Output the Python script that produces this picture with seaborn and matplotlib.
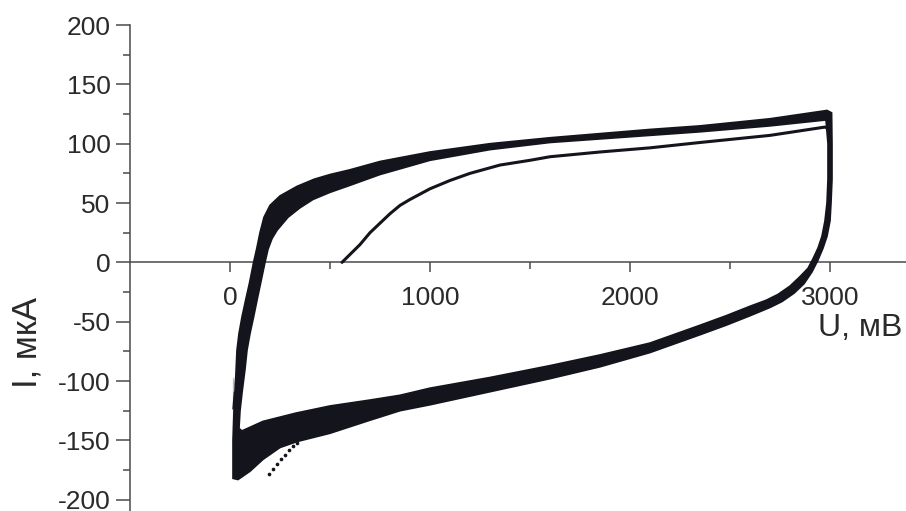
import numpy as np
import pandas as pd
import matplotlib
matplotlib.use("Agg")
import matplotlib.pyplot as plt
import seaborn as sns
from matplotlib.path import Path
from matplotlib.patches import PathPatch

# outer edge of the band of repeated cycles (U, mV / I, uA), going clockwise
band_outer_u = [15, 15, 20, 28, 35, 45, 60, 78, 98, 118, 133, 150, 170, 200, 250, 335, 420,
                500, 600, 750, 1000, 1300, 1600, 2100, 2350, 2700, 2985, 3008, 3010, 3010,
                3005, 3000, 2985, 2965, 2940, 2910, 2870, 2820, 2760, 2700, 2600, 2480, 2350,
                2200, 2100, 1850, 1600, 1300, 1000, 850, 700, 500, 335, 250, 165, 100, 40]
band_outer_i = [-182, -150, -125, -100, -74, -60, -46, -32, -17, 0, 11, 25, 38, 48, 56, 64, 70,
                74, 78, 85, 93, 100, 105, 112, 115, 121, 128, 126, 100, 70,
                50, 35, 22, 12, 2, -8, -18, -26, -33, -38, -45, -53, -61,
                -70, -76, -88, -98, -109, -120, -125, -133, -144, -151, -156, -166, -176, -183]
# inner edge of the same band, same direction
band_inner_u = [45, 50, 60, 75, 85, 100, 118, 135, 155, 175, 190, 210, 235, 290, 350, 415, 500,
                585, 750, 1000, 1300, 1600, 2100, 2350, 2700, 2980, 2990, 2990, 2985, 2975,
                2960, 2940, 2915, 2890, 2850, 2800, 2740, 2680, 2600, 2480, 2350, 2200, 2100,
                1850, 1600, 1300, 1000, 850, 700, 500, 330, 165, 60]
band_inner_i = [-140, -125, -110, -90, -74, -60, -46, -32, -16, 0, 11, 20, 27, 38, 46, 53, 59,
                64, 74, 86, 95, 101, 107, 110, 115, 120, 100, 70, 50, 35,
                22, 12, 3, -5, -12, -20, -27, -32, -37, -45, -53, -62, -68,
                -78, -87, -97, -106, -112, -116, -121, -127, -134, -142]

# first cycle, forward scan (thin line)
first_u = [560, 590, 620, 650, 700, 750, 800, 850, 900, 1000, 1100, 1200, 1350, 1500,
           1600, 1850, 2100, 2350, 2700, 2975, 3000]
first_i = [0, 5, 10, 15, 25, 33, 41, 48, 53, 62, 69, 75, 82, 86,
           89, 93, 96.5, 101, 107, 114, 112]

# sparse points under the lower branch
tail_u = [195, 215, 235, 255, 275, 295, 315, 335]
tail_i = [-178, -174, -170, -166, -162, -158, -155, -152]

# thin start segment and small rectangle at the left
start_u = [15, 15, 22, 22, 35, 35, 22]
start_i = [-150, -97, -103, -122, -122, -103, -103]

x_major = [0, 1000, 2000, 3000]
x_minor = [500, 1500, 2500]
y_major = [-200, -150, -100, -50, 0, 50, 100, 150, 200]
y_minor = [-175, -125, -75, -25, 25, 75, 125, 175]

sns.set_style("ticks")
plt.rcParams['font.family'] = ['Liberation Sans', 'DejaVu Sans']
plt.rcParams['axes.unicode_minus'] = False

ink = '#14141c'
axcol = '#4a4a4a'
txtcol = '#2a2a2a'

fig = plt.figure(figsize=(9.06, 5.11), dpi=100)
ax = fig.add_axes([130 / 906, 0, 776 / 906, 486 / 511])


def closed(u, i):
    pts = np.column_stack([u, i]).astype(float)
    return np.vstack([pts, pts[:1]])


outer = Path(closed(band_outer_u, band_outer_i), closed=True)
inner = Path(closed(band_inner_u, band_inner_i)[::-1], closed=True)
band = Path.make_compound_path(outer, inner)
ax.add_patch(PathPatch(band, facecolor=ink, edgecolor=ink, lw=1.2, zorder=3))

first = pd.DataFrame({'U': first_u, 'I': first_i})
sns.lineplot(data=first, x='U', y='I', sort=False, color=ink, lw=2.2, ax=ax, zorder=3)
start = pd.DataFrame({'U': start_u, 'I': start_i})
sns.lineplot(data=start, x='U', y='I', sort=False, color=ink, lw=1.0, ax=ax, zorder=3)
tail = pd.DataFrame({'U': tail_u, 'I': tail_i})
sns.scatterplot(data=tail, x='U', y='I', color=ink, s=7, linewidth=0, ax=ax, zorder=3)

ax.set_xlim(-500, 3380)
ax.set_ylim(-209.5, 200)
ax.set_xlabel('')
ax.set_ylabel('')

for s in ['top', 'right']:
    ax.spines[s].set_visible(False)
ax.spines['bottom'].set_position(('data', 0))
for s in ['left', 'bottom']:
    ax.spines[s].set_color(axcol)
    ax.spines[s].set_linewidth(1.1)
    ax.spines[s].set_zorder(2)

ax.set_xticks(x_major)
ax.set_xticks(x_minor, minor=True)
ax.set_yticks(y_major)
ax.set_yticks(y_minor, minor=True)
ax.tick_params(axis='x', which='major', direction='out', length=7, width=1.1,
               color=axcol, labelsize=19, labelcolor=txtcol, pad=10)
ax.tick_params(axis='x', which='minor', direction='out', length=5, width=1.1, color=axcol)
ax.tick_params(axis='y', which='major', direction='out', length=10, width=1.1,
               color=axcol, labelsize=19, labelcolor=txtcol, pad=4)
ax.tick_params(axis='y', which='minor', direction='out', length=5, width=1.1, color=axcol)
ax.set_xticklabels([str(v) for v in x_major])

fig.text(818 / 906, 1 - 328 / 511, 'U, мВ', fontsize=23, color=txtcol,
         ha='left', va='center')
fig.text(27 / 906, 1 - 342 / 511, 'I, мкА', fontsize=25, color=txtcol,
         rotation=90, ha='center', va='center')

fig.savefig('out.png', dpi=100)
